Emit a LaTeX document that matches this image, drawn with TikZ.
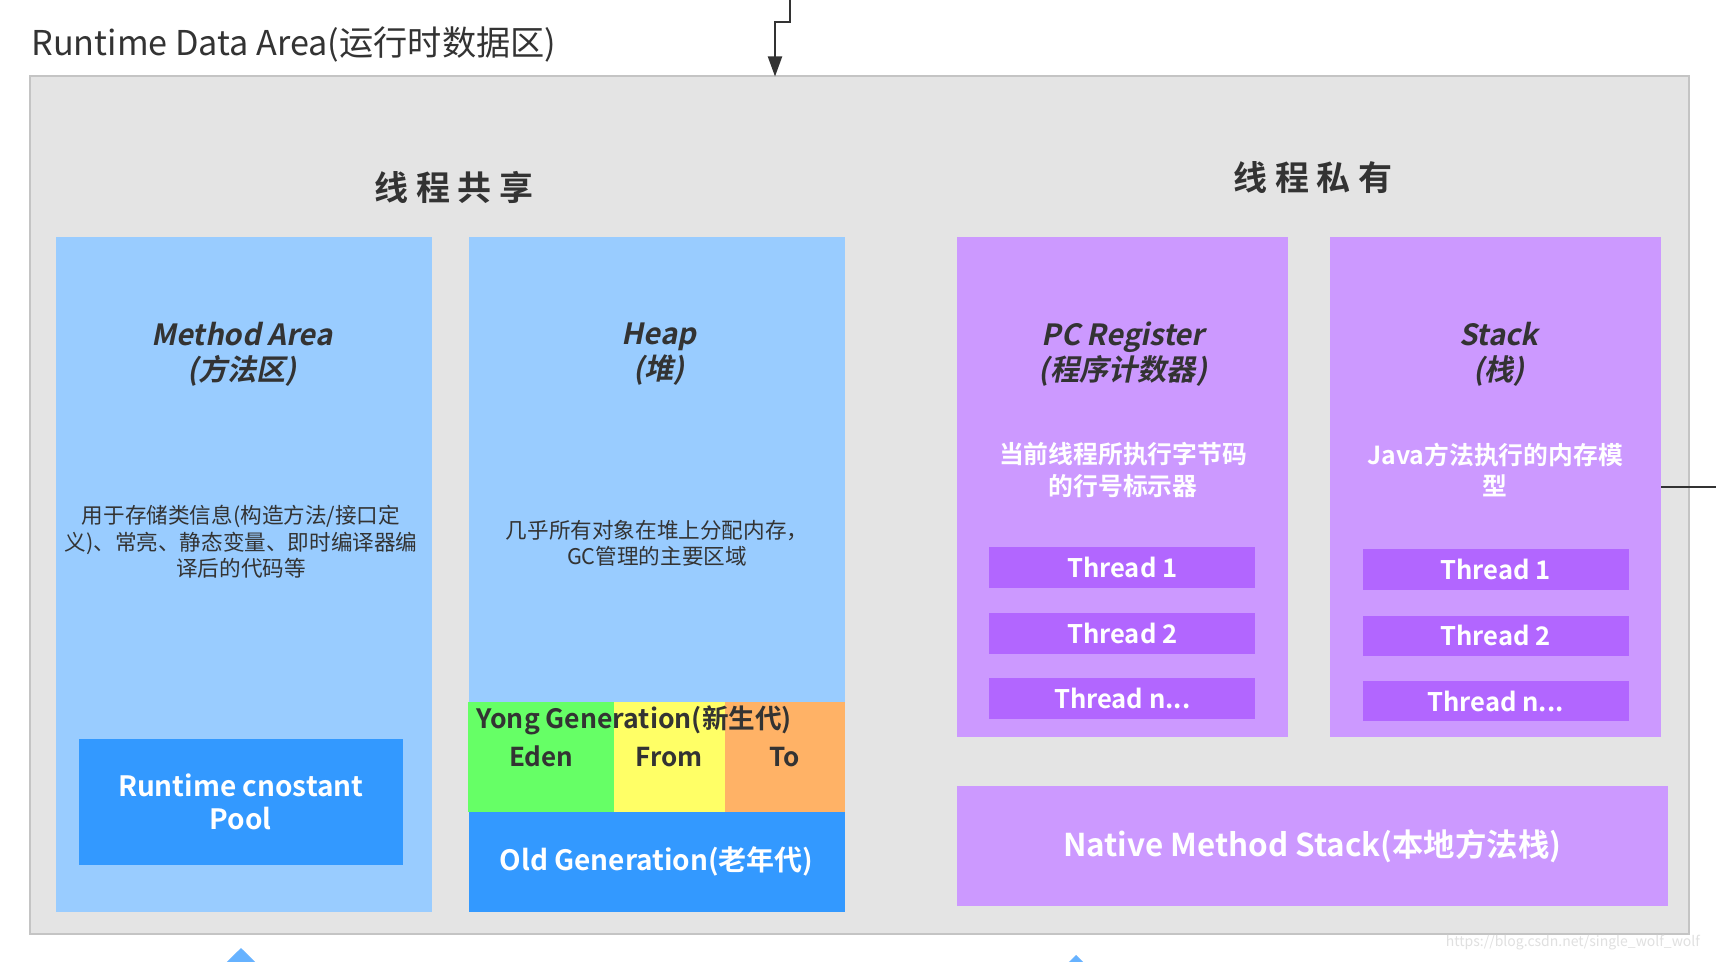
\documentclass[tikz,border=0pt]{standalone}
\usepackage{fontspec}
\setmainfont{Noto Sans CJK SC}[BoldFont={Noto Sans CJK SC Bold}, AutoFakeSlant=0.2,
  BoldItalicFont={Noto Sans CJK SC Bold}, BoldItalicFeatures={FakeSlant=0.2}]
\usetikzlibrary{arrows.meta}
\definecolor{rdgray}{HTML}{E4E4E4}
\definecolor{rdedge}{HTML}{C4C4C4}
\definecolor{rdtext}{HTML}{333333}
\definecolor{rdlight}{HTML}{99CCFF}
\definecolor{rdblue}{HTML}{3399FF}
\definecolor{rdgreen}{HTML}{66FF66}
\definecolor{rdyellow}{HTML}{FFFF66}
\definecolor{rdorange}{HTML}{FFB266}
\definecolor{rdpurple}{HTML}{CC99FF}
\definecolor{rdviolet}{HTML}{B266FF}
\definecolor{rdarrow}{HTML}{66B2FF}
\newcommand{\lastthread}{Thread n...}

\begin{document}
\begin{tikzpicture}[x=0.5pt, y=-0.5pt,
    area/.style={inner sep=0pt, outer sep=0pt, text=rdtext},
    shared/.style={area, fill=rdlight, minimum width=188pt, minimum height=337pt},
    private/.style={area, fill=rdpurple, minimum width=165.8pt, minimum height=249.5pt},
    solid/.style={area, fill=rdblue, text=white, align=center, font=\fontsize{14}{16.5}\selectfont\bfseries},
    thread/.style={area, fill=rdviolet, text=white, minimum width=133pt, minimum height=20.3pt,
                   font=\fontsize{12.8}{14}\selectfont\bfseries},
    gen/.style={area, minimum height=55.2pt, font=\fontsize{13}{15}\selectfont\bfseries},
    areatitle/.style={align=center, text=rdtext, font=\fontsize{14.6}{17.5}\selectfont\bfseries\itshape},
    sharedesc/.style={align=center, text=rdtext, font=\fontsize{10.8}{13.2}\selectfont},
    privdesc/.style={align=center, text=white, font=\fontsize{12.4}{15.9}\selectfont\bfseries},
    sectlbl/.style={text=rdtext, font=\fontsize{17}{20}\selectfont\bfseries},
    feed/.style={-{Triangle[length=10pt,width=7pt]}, draw=rdtext, line width=1pt},
    link/.style={draw=rdtext, line width=1pt},
    lift/.style={-{Triangle[length=8pt,width=16pt]}, draw=rdarrow, fill=rdarrow}
  ]
    \fill[white] (0,0) rectangle (1716,962);
    \useasboundingbox (0,0) rectangle (1716,962);

    \node[anchor=west, inner sep=0pt, text=rdtext, font=\fontsize{17.1}{20}\selectfont] (rdtitle) at (31,44)
      {Runtime Data Area(运行时数据区)};

    \node[area, fill=rdgray, draw=rdedge, line width=1pt,
          minimum width=829.6pt, minimum height=428.5pt] (rda) at (859.1,505) {};

    \coordinate (tin) at (790,0);
    \coordinate (jog) at (775,22);
    \draw[feed] (tin) |- (jog) -- (jog |- rda.north);

    \node[sectlbl] (sharedlbl) at (454,187) {线 程 共 享};
    \node[sectlbl] (privlbl) at (1313,178) {线 程 私 有};

    \node[shared]  (method) at (244,574.5) {};
    \node[shared]  (heap)   at (656.6,574.5) {};
    \node[private] (pc)     at (1122.3,487) {};
    \node[private] (stack)  at (1495.5,487) {};

    \node[areatitle] (methodt) at (242,354)    {Method Area\\(方法区)};
    \node[areatitle] (heapt)   at (659,354)    {Heap\\(堆)};
    \node[areatitle] (pct)     at (1123,354)   {PC Register\\(程序计数器)};
    \node[areatitle] (stackt)  at (1499,354)   {Stack\\(栈)};

    \node[sharedesc] (methodd) at (241,542)
      {用于存储类信息(构造方法/接口定\\义)、常亮、静态变量、即时编译器编\\译后的代码等};
    \node[sharedesc] (heapd) at (657,543) {几乎所有对象在堆上分配内存，\\GC管理的主要区域};
    \node[privdesc] (pcd) at (1123,470) {当前线程所执行字节码\\的行号标示器};
    \node[privdesc] (stackd) at (1495,470) {Java方法执行的内存模\\型};

    \node[solid, minimum width=162pt, minimum height=63pt] (pool) at (240.8,801.7)
      {Runtime cnostant\\Pool};

    \node[gen, fill=rdgreen,  minimum width=72.8pt] (eden) at (541.2,756.8) {Eden};
    \node[gen, fill=rdyellow, minimum width=55.2pt] (from) at (669.3,756.8) {From};
    \node[gen, fill=rdorange, minimum width=60.2pt] (to)   at (784.7,756.8) {To};
    \node[anchor=west, inner sep=0pt, text=rdtext, font=\fontsize{13.3}{15}\selectfont\bfseries] (young) at (476,720)
      {Yong Generation(新生代)};
    \node[solid, minimum width=188pt, minimum height=49.8pt] (old) at (656.6,861.8)
      {Old Generation(老年代)};

    \foreach \i/\t/\y in {1/Thread 1/567.4, 2/Thread 2/633.6, n/\lastthread/698.7}
      \node[thread] (pc\i) at (1122.3,\y) {\t};
    \foreach \i/\t/\y in {1/Thread 1/569.6, 2/Thread 2/635.8, n/\lastthread/701}
      \node[thread] (st\i) at (1495.5,\y) {\t};

    \node[area, fill=rdpurple, text=white, minimum width=355.7pt, minimum height=59.6pt,
          font=\fontsize{15.7}{17}\selectfont\bfseries] (native) at (1312.2,846)
      {Native Method Stack(本地方法栈)};

    \coordinate (rout) at (1716,487);
    \draw[link] (stack.east) -- (rout);

    \coordinate (m0) at (241,990);
    \coordinate (m1) at (241,948);
    \coordinate (n0) at (1076,1000);
    \coordinate (n1) at (1076,955);
    \draw[lift] (m0) -- (m1);
    \draw[lift] (n0) -- (n1);

    \node[anchor=east, text=black!12, font=\fontsize{7}{8}\selectfont] (url) at (1707,943)
      {https://blog.csdn.net/single\_wolf\_wolf};
  \end{tikzpicture}
\end{document}
